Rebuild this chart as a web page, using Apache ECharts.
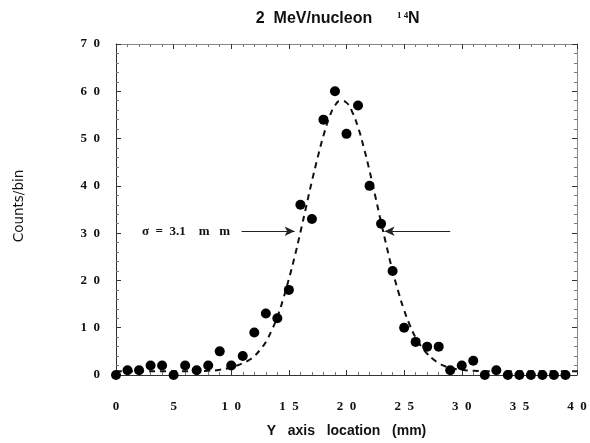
<!DOCTYPE html>
<html>
<head>
    <meta charset="utf-8">
    <title>14N Y profile</title>
    <script src="https://cdn.jsdelivr.net/npm/echarts@6/dist/echarts.min.js"></script>
    <style>
        html, body, #main {
            width: 100%;
            height: 100%;
            margin: 0;
            background: #fff;
        }
    </style>
</head>
<body>
    <div id="main"></div>
    <script type="text/javascript">
        // bins (mm) and counts
        var binX = [0, 1, 2, 3, 4, 5, 6, 7, 8, 9, 10, 11, 12, 13, 14, 15, 16, 17, 18, 19,
                    20, 21, 22, 23, 24, 25, 26, 27, 28, 29, 30, 31, 32, 33, 34, 35, 36, 37, 38, 39];
        var counts = [0, 1, 1, 2, 2, 0, 2, 1, 2, 5, 2, 4, 9, 13, 12, 18, 36, 33, 54, 60,
                      51, 57, 40, 32, 22, 10, 7, 6, 6, 1, 2, 3, 0, 1, 0, 0, 0, 0, 0, 0];

        // dashed fit curve
        var fitX = [0, 2, 4, 6, 8, 9, 10, 10.5, 11, 11.5, 12, 12.5, 13, 13.5, 14, 14.5, 15, 15.5,
                    16, 16.5, 17, 17.5, 18, 18.5, 19, 19.5, 20, 20.5, 21, 21.5, 22, 22.5, 23,
                    23.5, 24, 24.5, 25, 25.5, 26, 26.5, 27, 27.5, 28, 28.5, 29, 30, 31, 32, 34, 36, 38, 40];
        var fitY = [0.8, 0.8, 0.8, 0.8, 0.9, 1.1, 1.6, 2.0, 2.5, 3.1, 4.0, 5.3, 7.0, 9.4, 12.3, 16, 20.3, 25,
                    30.2, 35.6, 41, 46, 50.6, 54.4, 57, 58, 57.6, 55.6, 52.4, 48.1, 43.2, 37.8, 32.3,
                    27, 22, 17.6, 13.7, 10.5, 7.9, 6, 4.5, 3.4, 2.5, 1.9, 1.5, 1.1, 0.9, 0.8, 0.8, 0.8, 0.8, 0.8];

        var xTicks = [0, 5, 10, 15, 20, 25, 30, 35, 40];
        var yTicks = [0, 10, 20, 30, 40, 50, 60, 70];

        var sigmaLabel = 'σ  =  3.1    m   m';
        var arrowY = 30.4;

        var myChart = echarts.init(document.getElementById('main'));
        var serif = '"Liberation Serif", "DejaVu Serif", serif';
        var sans = '"Liberation Sans", Lato, sans-serif';

        // tick labels in the original have their digits spread apart
        function spaced(v) {
            return String(v).split('').join('  ');
        }

        var points = binX.map(function (x, i) { return [x, counts[i]]; });
        var fit = fitX.map(function (x, i) { return [x, fitY[i]]; });

        var lineCol = '#333';
        function frameAxis(extra) {
            var base = {
                type: 'value',
                axisLine: { show: true, onZero: false, lineStyle: { color: lineCol, width: 1 } },
                axisTick: { show: true, inside: true, length: 5, lineStyle: { color: lineCol } },
                minorTick: { show: true, splitNumber: 5, length: 3, lineStyle: { color: '#777' } },
                splitLine: { show: false },
                axisLabel: { show: false }
            };
            return Object.assign(base, extra);
        }

        option = {
            animation: false,
            backgroundColor: '#fff',
            grid: { left: 116, right: 13, top: 44, bottom: 66 },
            xAxis: [
                frameAxis({
                    min: 0, max: 40, interval: 5,
                    position: 'bottom',
                    axisLabel: {
                        show: true, margin: 25, color: '#111',
                        fontFamily: serif, fontWeight: 'bold', fontSize: 13,
                        formatter: spaced,
                        customValues: xTicks
                    },
                    name: 'Y   axis   location   (mm)',
                    nameLocation: 'middle',
                    nameGap: 49,
                    nameTextStyle: { fontFamily: sans, fontWeight: 'bold', fontSize: 14, color: '#111' }
                }),
                frameAxis({ min: 0, max: 40, interval: 5, position: 'top',
                            axisLine: { show: true, onZero: false, lineStyle: { color: '#888', width: 1 } } })
            ],
            yAxis: [
                frameAxis({
                    min: 0, max: 70, interval: 10,
                    position: 'left',
                    axisLabel: {
                        show: true, margin: 16, color: '#111',
                        fontFamily: serif, fontWeight: 'bold', fontSize: 13,
                        formatter: spaced,
                        customValues: yTicks
                    }
                }),
                frameAxis({ min: 0, max: 70, interval: 10, position: 'right',
                            axisLine: { show: true, onZero: false, lineStyle: { color: '#888', width: 1 } } })
            ],
            graphic: [{
                type: 'text',
                x: 314, y: 19,
                style: {
                    text: '2  MeV/nucleon', align: 'center', verticalAlign: 'middle',
                    fontFamily: sans, fontWeight: 'bold', fontSize: 16, fill: '#111'
                }
            }, {
                type: 'text',
                x: 397, y: 16,
                style: {
                    text: '1 4', align: 'left', verticalAlign: 'middle',
                    fontFamily: serif, fontWeight: 'bold', fontSize: 9, fill: '#111'
                }
            }, {
                type: 'text',
                x: 408, y: 19,
                style: {
                    text: 'N', align: 'left', verticalAlign: 'middle',
                    fontFamily: sans, fontWeight: 'bold', fontSize: 16, fill: '#111'
                }
            }, {
                type: 'text',
                x: 19, y: 206,
                rotation: Math.PI / 2,
                style: {
                    text: 'Counts/bin', align: 'center', verticalAlign: 'middle',
                    fontFamily: '"DejaVu Sans", sans-serif', fontSize: 13.5, fill: '#111'
                }
            }, {
                type: 'text',
                x: 142, y: 232,
                style: {
                    text: sigmaLabel, align: 'left', verticalAlign: 'middle',
                    fontFamily: serif, fontWeight: 'bold', fontSize: 13, fill: '#111'
                }
            }],
            series: [{
                name: 'fit',
                type: 'line',
                data: fit,
                smooth: true,
                showSymbol: false,
                lineStyle: { color: '#111', width: 2, type: [6, 5] },
                markLine: {
                    silent: true,
                    symbol: ['none', 'arrow'],
                    symbolSize: [7, 10],
                    label: { show: false },
                    lineStyle: { color: '#222', width: 1, type: 'solid' },
                    data: [
                        [{ coord: [10.9, arrowY] }, { coord: [15.5, arrowY] }],
                        [{ coord: [29.0, arrowY] }, { coord: [23.3, arrowY] }]
                    ]
                },
                z: 2
            }, {
                name: 'counts',
                type: 'scatter',
                data: points,
                symbolSize: 10,
                itemStyle: { color: '#000', opacity: 1 },
                z: 3
            }]
        };

        if (option && typeof option === "object") {
            myChart.setOption(option, true);
        }
    </script>
</body>
</html>
